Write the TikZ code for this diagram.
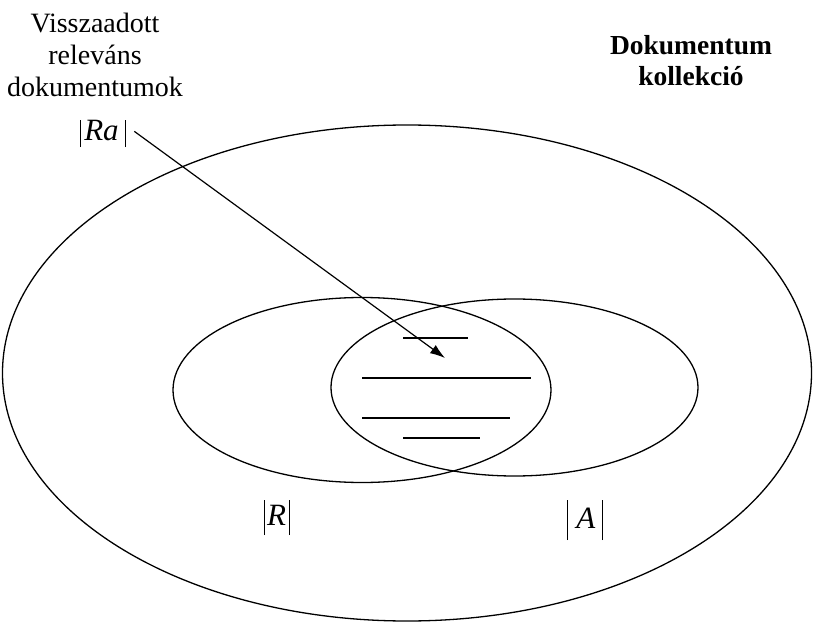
\documentclass[tikz,border=0pt]{standalone}
\usepackage{fontspec}
\setmainfont{Liberation Serif}
\usetikzlibrary{shapes.geometric,arrows.meta}
\newcommand\vbar[2]{\rule[-#1pt]{1.4pt}{#2pt}}
\begin{document}
\begin{tikzpicture}[x=1pt,y=-1pt,
  ell/.style={draw,ellipse,line width=1.3pt,inner sep=0pt},
  lbl/.style={font=\fontsize{28}{32}\selectfont,align=center,inner sep=0pt},
  mlbl/.style={font=\fontsize{31}{32}\selectfont,inner sep=0pt,anchor=base},
  bar/.style={line width=1.2pt}]
\useasboundingbox (0,0) rectangle (815,626);
\node[ell,minimum width=809pt,minimum height=496pt] (coll) at (407,373) {};
\node[ell,minimum width=378pt,minimum height=185pt] (R) at (362,390) {};
\node[ell,minimum width=367pt,minimum height=177pt] (A) at (514.5,387.5) {};
% hatch lines
\coordinate (l1a) at (403,338); \coordinate (l1b) at (468,338);
\coordinate (l2a) at (362,378); \coordinate (l2b) at (531,378);
\coordinate (l3a) at (362,418); \coordinate (l3b) at (510,418);
\coordinate (l4a) at (403,438); \coordinate (l4b) at (480,438);
\draw[bar] (l1a) -- (l1b);
\draw[bar] (l2a) -- (l2b);
\draw[bar] (l3a) -- (l3b);
\draw[bar] (l4a) -- (l4b);
% texts
\node[lbl,anchor=base] (v1) at (95,33) {Visszaadott};
\node[lbl,anchor=base] (v2) at (95,65) {releváns};
\node[lbl,anchor=base] (v3) at (95,97) {dokumentumok};
\node[lbl,anchor=base,font=\fontsize{27.5}{30}\bfseries\selectfont] (d1) at (691,55) {Dokumentum};
\node[lbl,anchor=base,font=\fontsize{27.5}{30}\bfseries\selectfont] (d2) at (691,85) {kollekció};
\node[mlbl] (ra) at (103,140) {\vbar{7}{27}\hspace{3pt}\textit{Ra}\hspace{6pt}\vbar{7}{27}};
\node[mlbl] (rl) at (277,525) {\vbar{10}{35}\hspace{2pt}\textit{R}\hspace{3pt}\vbar{10}{35}};
\node[mlbl] (al) at (585,528) {\vbar{12}{40}\hspace{8pt}\textit{A}\hspace{6pt}\vbar{12}{40}};
\coordinate (tip) at (445,358);
\draw[line width=1.2pt,-{Latex[length=15pt,width=10pt]}] ([shift={(8,-2)}]ra.east) -- (tip);
\end{tikzpicture}
\end{document}
